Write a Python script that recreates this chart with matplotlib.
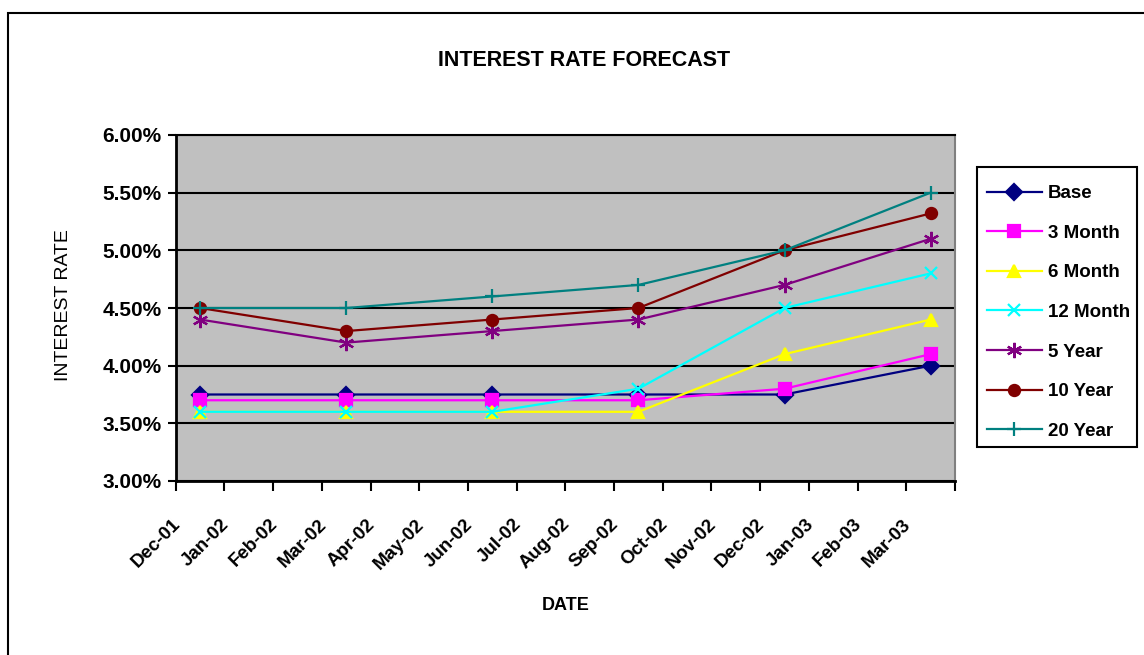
import matplotlib
matplotlib.use("Agg")
import matplotlib.pyplot as plt
from matplotlib.patches import Rectangle
from matplotlib.transforms import ScaledTranslation

plt.rcParams['font.family'] = ['Liberation Sans', 'DejaVu Sans']

# month categories on the date axis
months = ["Dec-01", "Jan-02", "Feb-02", "Mar-02", "Apr-02", "May-02", "Jun-02", "Jul-02",
          "Aug-02", "Sep-02", "Oct-02", "Nov-02", "Dec-02", "Jan-03", "Feb-03", "Mar-03"]
point_months = ["Dec-01", "Mar-02", "Jun-02", "Sep-02", "Dec-02", "Mar-03"]

# interest rates in percent
base = [3.75, 3.75, 3.75, 3.75, 3.75, 4.00]
m3 = [3.70, 3.70, 3.70, 3.70, 3.80, 4.10]
m6 = [3.60, 3.60, 3.60, 3.60, 4.10, 4.40]
m12 = [3.60, 3.60, 3.60, 3.80, 4.50, 4.80]
y5 = [4.40, 4.20, 4.30, 4.40, 4.70, 5.10]
y10 = [4.50, 4.30, 4.40, 4.50, 5.00, 5.32]
y20 = [4.50, 4.50, 4.60, 4.70, 5.00, 5.50]

series = [
    ("Base", base, "#000080", "D", 8),
    ("3 Month", m3, "#FF00FF", "s", 8),
    ("6 Month", m6, "#FFFF00", "^", 9),
    ("12 Month", m12, "#00FFFF", "x", 9),
    ("5 Year", y5, "#800080", (6, 2, 0), 11),
    ("10 Year", y10, "#800000", "o", 8),
    ("20 Year", y20, "#008080", "+", 10),
]

W, H = 1144, 655
fig = plt.figure(figsize=(W / 100, H / 100), dpi=100)
ax = fig.add_axes([175.7 / W, 1 - 481 / H, (955 - 175.7) / W, (481 - 135) / H])
ax.set_facecolor("#C0C0C0")

# mid-month positions for the points
x = [months.index(m) + 0.5 for m in point_months]

for name, vals, col, mk, ms in series:
    ax.plot(x, vals, color=col, lw=1.6, marker=mk, markersize=ms,
            markerfacecolor=col, markeredgecolor=col, markeredgewidth=1.6,
            label=name, clip_on=False)

ax.set_ylim(3.0, 6.0)
yt = [3.0, 3.5, 4.0, 4.5, 5.0, 5.5, 6.0]
ax.set_yticks(yt)
ax.set_yticklabels(["%.2f%%" % v for v in yt], fontsize=15, fontweight="bold")
ax.yaxis.grid(True, color="black", lw=1.5)
ax.set_axisbelow(True)

ax.set_xlim(0, len(months))
ax.set_xticks(range(len(months) + 1))
ax.set_xticklabels(months + [""], rotation=45, ha="right", fontsize=13.5,
                   fontweight="bold")
ax.tick_params(axis="x", direction="out", length=7, width=1.5, pad=18)
ax.tick_params(axis="y", direction="out", length=6, width=1.5, pad=4)
shift = ScaledTranslation(8 / 100, 0, fig.dpi_scale_trans)
for lbl in ax.get_xticklabels():
    lbl.set_transform(lbl.get_transform() + shift)

for s in ["left", "bottom"]:
    ax.spines[s].set_linewidth(2)
    ax.spines[s].set_color("black")
ax.spines["top"].set_linewidth(1.5)
ax.spines["top"].set_color("black")
ax.spines["right"].set_linewidth(1.5)
ax.spines["right"].set_color("#808080")

fig.text(584.5 / W, 1 - 60 / H, "INTEREST RATE FORECAST", ha="center", va="center",
         fontsize=15.5, fontweight="bold")
fig.text(64 / W, 1 - 305 / H, "INTEREST RATE", ha="center", va="center",
         rotation=90, fontsize=14)
fig.text(566 / W, 1 - 606 / H, "DATE", ha="center", va="center",
         fontsize=13, fontweight="bold")

leg = ax.legend(loc="upper left", bbox_to_anchor=(987 / W, 1 - 185 / H),
                bbox_transform=fig.transFigure, frameon=False, borderaxespad=0,
                borderpad=0, handlelength=2.93, handletextpad=0.32,
                labelspacing=1.2, prop={"weight": "bold", "size": 13.5})

# legend box
fig.add_artist(Rectangle((977 / W, 1 - 447 / H), 160 / W, 280 / H,
                         transform=fig.transFigure, fill=False, ec="black", lw=1.5))

# outer chart frame (cut off on the right and bottom)
fig.add_artist(Rectangle((8 / W, -0.1), 1.2, 1.1 - 13 / H, transform=fig.transFigure,
                         fill=False, ec="black", lw=1.5))

fig.savefig("out.png", dpi=100)
